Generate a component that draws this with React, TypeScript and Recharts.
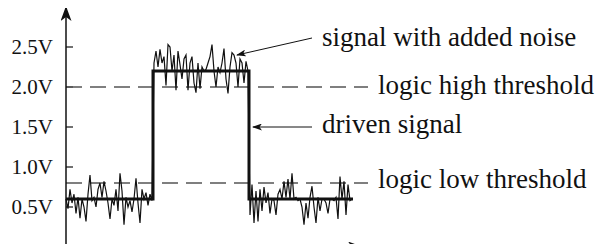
import { LineChart, Line, XAxis, YAxis, ReferenceLine, ReferenceDot } from "recharts";

// y axis, volts
const yTicks = [0.5, 1.0, 1.5, 2.0, 2.5];
const tickLabels = ["0.5V", "1.0V", "1.5V", "2.0V", "2.5V"];

// thresholds (volts)
const highThreshold = 2.0;
const lowThreshold = 0.8;

// driven signal corners (time units, volts)
const drivenTimes = [0, 87, 87, 183, 183, 287];
const drivenLevels = [0.6, 0.6, 2.2, 2.2, 0.6, 0.6];

// noisy samples, one every 2 time units
const noiseLowA = [
  0.6, 0.48, 0.72, 0.55, 0.66, 0.42, 0.62, 0.36, 0.6, 0.5, 0.32, 0.66, 0.9, 0.58, 0.62,
  0.5, 0.72, 0.8, 0.62, 0.82, 0.7, 0.55, 0.35, 0.6, 0.52, 0.72, 0.45, 0.92, 0.7, 0.28,
  0.62, 0.5, 0.58, 0.44, 0.6, 0.86, 0.55, 0.3, 0.72, 0.6, 0.68, 0.52, 0.66, 0.58,
];
const noiseHigh = [
  2.3, 2.45, 2.25, 2.47, 2.3, 2.38, 2.02, 2.53, 2.5, 2.2, 2.4, 1.96, 2.45, 2.28, 2.1,
  2.35, 2.4, 1.96, 2.3, 2.38, 2.05, 1.93, 2.3, 1.98, 2.25, 2.2, 2.22, 2.3, 2.38, 2.53,
  2.2, 2.0, 2.25, 2.18, 2.3, 2.48, 2.1, 1.92, 2.25, 2.43, 2.4, 2.3, 2.0, 2.35, 2.3,
  2.05, 2.32, 2.2,
];
const noiseLowB = [
  0.4, 0.78, 0.3, 0.7, 0.32, 0.72, 0.45, 0.75, 0.55, 0.68, 0.42, 0.6, 0.58, 0.4, 0.66,
  0.72, 0.6, 0.82, 0.62, 0.85, 0.6, 0.92, 0.6, 0.62, 0.58, 0.6, 0.5, 0.28, 0.55, 0.36,
  0.62, 0.76, 0.5, 0.3, 0.62, 0.45, 0.6, 0.6, 0.55, 0.42, 0.6, 0.6, 0.58, 0.62, 0.35,
  0.88, 0.6, 0.82, 0.4, 0.78, 0.58, 0.6,
];
const noiseStarts = [0, 88, 184];

const noiseData = [noiseLowA, noiseHigh, noiseLowB].flatMap((arr, k) =>
  arr.map((v, i) => ({ t: noiseStarts[k] + i * 2, v }))
);
const drivenData = drivenTimes.map((t, i) => ({ t, v: drivenLevels[i] }));

const ink = "#111";
const font = "'Liberation Serif', 'Times New Roman', serif";

const arrowLine = (p: any) => (
  <line x1={p.x1} y1={p.y1} x2={p.x2} y2={p.y2} stroke={ink} strokeWidth={1} markerEnd="url(#smallArrow)" />
);
const axisArrow = (p: any) => (
  <line x1={p.x1} y1={p.y1} x2={p.x2} y2={p.y2} stroke={ink} strokeWidth={1.5} markerEnd="url(#bigArrow)" />
);

const note = (value: string) => ({
  value, position: "right" as const, offset: 0, fill: ink, fontSize: 27, fontFamily: font,
});

export default function App() {
  return (
    <div style={{ width: 606, height: 252, fontFamily: font, margin: -8, position: "relative" }}>
      <svg width={0} height={0} style={{ position: "absolute" }}>
        <defs>
          <marker id="bigArrow" markerUnits="userSpaceOnUse" markerWidth={15} markerHeight={11}
            refX={14} refY={5.5} orient="auto-start-reverse">
            <path d="M0,0 L15,5.5 L0,11 L4,5.5 Z" fill={ink} />
          </marker>
          <marker id="smallArrow" markerUnits="userSpaceOnUse" markerWidth={10} markerHeight={7}
            refX={9} refY={3.5} orient="auto">
            <path d="M0,0 L10,3.5 L0,7 L2.5,3.5 Z" fill={ink} />
          </marker>
        </defs>
      </svg>
      <LineChart width={606} height={252} margin={{ top: 7, right: 244, bottom: 4, left: 0 }}>
        <XAxis type="number" dataKey="t" domain={[0, 296]} height={1} tick={false} tickLine={false}
          axisLine={false} />
        <YAxis type="number" domain={[0, 3]} ticks={yTicks} width={66} tickSize={0} tickMargin={13}
          tickLine={false}
          tickFormatter={(v: number) => tickLabels[yTicks.indexOf(v)] ?? ""}
          tick={{ fill: ink, fontSize: 21, fontFamily: font }}
          axisLine={{ stroke: ink, strokeWidth: 1.5, markerStart: "url(#bigArrow)" }} />

        <ReferenceLine segment={[{ x: 0, y: 0 }, { x: 296, y: 0 }]} ifOverflow="visible" shape={axisArrow} />

        {yTicks.map((v) => (
          <ReferenceLine key={v} segment={[{ x: 0, y: v }, { x: 7, y: v }]} stroke={ink} strokeWidth={1.2} />
        ))}

        <ReferenceLine segment={[{ x: 0, y: highThreshold }, { x: 302, y: highThreshold }]}
          ifOverflow="visible" stroke="#555" strokeWidth={1.3} strokeDasharray="16 8" />
        <ReferenceLine segment={[{ x: 0, y: lowThreshold }, { x: 302, y: lowThreshold }]}
          ifOverflow="visible" stroke="#555" strokeWidth={1.3} strokeDasharray="16 8" />

        <Line data={noiseData} dataKey="v" type="linear" stroke={ink} strokeWidth={1.2}
          dot={false} isAnimationActive={false} />
        <Line data={drivenData} dataKey="v" type="linear" stroke={ink} strokeWidth={3}
          dot={false} isAnimationActive={false} />

        <ReferenceLine segment={[{ x: 246, y: 2.6125 }, { x: 171, y: 2.4 }]} ifOverflow="visible" shape={arrowLine} />
        <ReferenceLine segment={[{ x: 246, y: 1.5 }, { x: 187, y: 1.5 }]} ifOverflow="visible" shape={arrowLine} />

        <ReferenceDot x={256} y={2.636} r={0} fill="none" stroke="none" ifOverflow="visible"
          label={note("signal with added noise")} />
        <ReferenceDot x={312} y={2.0325} r={0} fill="none" stroke="none" ifOverflow="visible"
          label={note("logic high threshold")} />
        <ReferenceDot x={256} y={1.545} r={0} fill="none" stroke="none" ifOverflow="visible"
          label={note("driven signal")} />
        <ReferenceDot x={312} y={0.8575} r={0} fill="none" stroke="none" ifOverflow="visible"
          label={note("logic low threshold")} />
      </LineChart>
    </div>
  );
}
